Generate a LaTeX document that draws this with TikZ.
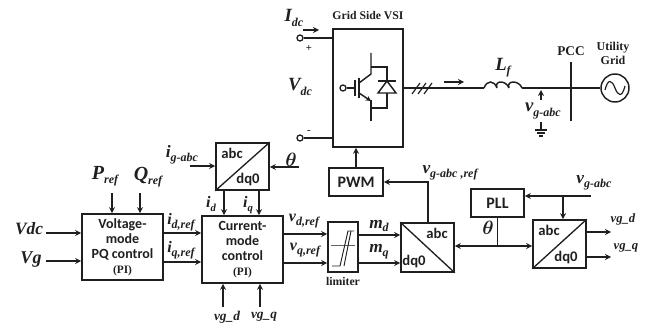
\documentclass[tikz,border=0pt]{standalone}
\usepackage{fontspec}
\setmainfont{Liberation Serif}
\newfontfamily\boxfont{Carlito}
\usetikzlibrary{arrows.meta,calc}
\definecolor{ink}{gray}{0.12}
\newcommand{\lbl}[4]{{\bfseries\itshape\fontsize{#1}{#1}\selectfont #3\raisebox{-0.22em}{\fontsize{#2}{#2}\selectfont #4}}}
\newcommand{\bth}[1]{{\fontsize{#1}{#1}\selectfont\boldmath$\theta$}}
\tikzset{
  bw/.style={minimum width=#1*0.75pt},
  bh/.style={minimum height=#1*0.75pt},
  blk/.style={draw=ink,line width=1.2pt,inner sep=0pt,align=center,font=\boxfont\bfseries\fontsize{10.5}{11.3}\selectfont,text=ink},
  bigblk/.style={blk,font=\boxfont\bfseries\fontsize{12}{12}\selectfont},
  wire/.style={draw=ink,line width=1.1pt},
  arr/.style={wire,-{Stealth[length=4.5pt,width=4.5pt]}},
  darr/.style={wire,{Stealth[length=4.5pt,width=4.5pt]}-{Stealth[length=4.5pt,width=4.5pt]}},
  txt/.style={inner sep=0pt,text=ink},
  conv/.style={font=\boxfont\bfseries\fontsize{11}{11}\selectfont,inner sep=0pt,text=ink},
  term/.style={circle,draw=ink,line width=1pt,minimum size=4.5pt,inner sep=0pt},
  slab/.style={inner sep=0pt,text=ink,font=\bfseries\fontsize{8.8}{10.5}\selectfont,align=center},
}
\begin{document}
\begin{tikzpicture}[x=0.75pt,y=-0.75pt]
\useasboundingbox (0,0) rectangle (646,324);
% blocks
\node[blk,bw=70,bh=118] (vsi) at (368,88) {};
\node[bigblk,bw=54,bh=28] (pwm) at (356,182) {PWM};
\node[blk,bw=53,bh=47] (t1) at (242.5,166.5) {};
\node[blk,bw=81,bh=66] (volt) at (122.5,247) {Voltage-\\mode\\PQ control\\{\rmfamily\bfseries\fontsize{8.5}{11.3}\selectfont (PI)}};
\node[blk,bw=81,bh=67] (curr) at (242.5,249.5) {Current-\\mode\\control\\{\rmfamily\bfseries\fontsize{8.5}{11.3}\selectfont (PI)}};
\node[blk,bw=30,bh=50] (lim) at (343,247) {};
\node[blk,bw=53,bh=49] (t2) at (427.5,247.5) {};
\node[bigblk,bw=53,bh=28] (pll) at (497.5,203) {PLL};
\node[blk,bw=53,bh=48] (t3) at (559.5,244) {};
% converter diagonals and texts
\draw[wire,line width=1pt] (t1.south west) -- (t1.north east);
\draw[wire,line width=1pt] (t2.north west) -- (t2.south east);
\draw[wire,line width=1pt] (t3.south west) -- (t3.north east);
\node[conv] (t1a) at (232,153) {abc};
\node[conv] (t1b) at (248,180) {dq0};
\node[conv] (t2a) at (437,233) {abc};
\node[conv] (t2b) at (414,262) {dq0};
\node[conv] (t3a) at (549,230) {abc};
\node[conv] (t3b) at (566,258) {dq0};
% limiter characteristic
\draw[ink!70,line width=0.7pt] (331,245) -- (355,245);
\draw[ink,line width=0.7pt] (332,266) -- (340,266) -- (348,231) -- (354,231);
\draw[ink,line width=0.7pt] (344,266) -- (351,231);
\node[slab] (limt) at (343,281) {limiter};
% free ends
\coordinate (vdcin) at (46,233);
\coordinate (vgin) at (46,261);
\coordinate (pin) at (112,193);
\coordinate (qin) at (140,193);
\coordinate (igin) at (190,166);
\coordinate (thin) at (299,167);
\coordinate (gdin) at (223,307);
\coordinate (gqin) at (260,307);
\coordinate (vgr) at (591,196);
\coordinate (o1) at (611,232);
\coordinate (o2) at (611,257);
% left side
\draw[arr] (vdcin) -- (vdcin -| volt.west);
\draw[arr] (vgin) -- (vgin -| volt.west);
\draw[arr] (pin) -- (pin |- volt.north);
\draw[arr] (qin) -- (qin |- volt.north);
\draw[arr] (volt.east |- 0,233) -- (curr.west |- 0,233);
\draw[arr] (volt.east |- 0,262) -- (curr.west |- 0,262);
\draw[arr] (igin) -- (igin -| t1.west);
\draw[arr] (thin) -- (thin -| t1.east);
\draw[arr] (t1.south -| 224,0) -- (curr.north -| 224,0);
\draw[arr] (t1.south -| 259,0) -- (curr.north -| 259,0);
\draw[arr] (gdin) -- (gdin |- curr.south);
\draw[arr] (gqin) -- (gqin |- curr.south);
\draw[arr] (curr.east |- 0,234) -- (lim.west |- 0,234);
\draw[arr] (curr.east |- 0,263) -- (lim.west |- 0,263);
\draw[arr] (lim.east |- 0,235) -- (t2.west |- 0,235);
\draw[arr] (lim.east |- 0,263) -- (t2.west |- 0,263);
% to PWM and VSI
\draw[arr] (t2.north -| 428,0) |- (pwm.east);
\draw[arr] (pwm.north) -- (pwm.north |- vsi.south);
% PLL, theta bus
\draw[darr] (t2.east |- 0,246) -- (t3.west |- 0,246);
\draw[wire] (pll.south) -- (pll.south |- 0,246);
\draw[arr] (vgr) -- (vgr -| pll.east);
\draw[arr] (563,196) -- (t3.north -| 563,0);
\draw[arr] (t3.east |- o1) -- (o1);
\draw[arr] (t3.east |- o2) -- (o2);
% DC side
\node[term] (tp) at (300,38) {};
\node[term] (tm) at (300,138) {};
\draw[wire] (tp) -- (tp -| vsi.west);
\draw[wire] (tm) -- (tm -| vsi.west);
\coordinate (ia) at (303,30);
\coordinate (ib) at (319,30);
\draw[arr,line width=0.8pt] (ia) -- (ib);
\node[txt,font=\bfseries\fontsize{8}{8}\selectfont] (plus) at (309,48) {+};
\node[txt,font=\bfseries\fontsize{8}{8}\selectfont] (minus) at (309,132) {-};
% IGBT + diode
\node[term] (gate) at (343,88) {};
\draw[wire] (gate) -- (355,88);
\draw[wire] (355,80) -- (355,96);
\draw[wire] (359,78) -- (359,98);
\draw[wire] (371,53) -- (371,74) -- (359,83);
\draw[wire,-{Stealth[length=4pt,width=4pt]}] (359,93) -- (371,101);
\draw[wire] (371,100) -- (371,121);
\draw[wire] (371,67) -- (387,67) -- (387,81);
\draw[wire] (371,108) -- (387,108) -- (387,93);
\draw[wire] (378,81) -- (396,81);
\draw[wire] (378,93) -- (396,93) -- (387,81) -- cycle;
% AC side
\coordinate (l1) at (484,88);
\coordinate (l2) at (522,88);
\node[circle,draw=ink,line width=1.1pt,minimum size=21pt,inner sep=0pt] (src) at (615,88) {};
\draw[wire] (vsi.east |- l1) -- (l1);
\draw[wire] (l2) -- (src.west);
\draw[wire] (l1) .. controls (487,80) and (494,80) .. (497,88)
            (497,88) .. controls (494,80) and (506,80) .. (509,88)
            (509,88) .. controls (506,80) and (519,80) .. (l2);
\draw[wire,line width=0.9pt] (412,94) -- (420,83) (418,94) -- (426,83) (424,94) -- (432,83);
\draw[arr,line width=0.9pt] (444,82) -- (464,82);
\draw[wire,line width=1pt] (571,62) -- (571,121);
\draw[ink,line width=0.9pt] (605,90) .. controls (608,78) and (612,80) .. (615,88) .. controls (618,96) and (622,98) .. (625,86);
\draw[arr,line width=0.8pt] (541,100) -- (541,90);
\draw[wire,line width=0.8pt] (541,122) -- (541,130) (535,130) -- (547,130) (537,133) -- (545,133) (539,136) -- (543,136);
% labels
\node[slab] (vsilab) at (368,16) {Grid Side VSI};
\node[slab,font=\bfseries\fontsize{10}{10}\selectfont] (pcc) at (571,51) {PCC};
\node[slab,font=\bfseries\fontsize{9}{10.5}\selectfont] (ug) at (613,53) {Utility\\Grid};
\node[txt] (lidc) at (294,18) {\lbl{14}{9}{I}{dc}};
\node[txt] (lvdc) at (300,87) {\lbl{14}{9}{V}{dc}};
\node[txt] (llf) at (503,68) {\lbl{14}{9}{L}{f}};
\node[txt] (lvg1) at (543,111) {\lbl{14}{9}{v}{g-abc}};
\node[txt] (lp) at (105,176) {\lbl{15}{9}{P}{ref}};
\node[txt] (lq) at (148,177) {\lbl{15}{9}{Q}{ref}};
\node[txt,font=\bfseries\itshape\fontsize{13}{13}\selectfont] (lvdcin) at (29,229) {Vdc};
\node[txt,font=\bfseries\itshape\fontsize{13.5}{13}\selectfont] (lvgin) at (31,260) {Vg};
\node[txt] (lig) at (182,155) {\lbl{13}{9}{i}{g-abc}};
\node[txt,text=ink] (lth1) at (291,160) {\bth{14}};
\node[txt] (lid) at (211,204) {\lbl{12}{8}{i}{d}};
\node[txt] (liq) at (248,205) {\lbl{12}{8}{i}{q}};
\node[txt] (lidr) at (181,222) {\lbl{12}{9}{i}{d,ref}};
\node[txt] (liqr) at (181,250) {\lbl{12}{9}{i}{q,ref}};
\node[txt] (lvdr) at (304,221) {\lbl{12}{9}{v}{d,ref}};
\node[txt] (lvqr) at (305,250) {\lbl{12}{9}{v}{q,ref}};
\node[txt,font=\bfseries\itshape\fontsize{10}{10}\selectfont] (lgd) at (227,317) {vg\_d};
\node[txt,font=\bfseries\itshape\fontsize{10}{10}\selectfont] (lgq) at (264,317) {vg\_q};
\node[txt] (lmd) at (379,226) {\lbl{13}{9}{m}{d}};
\node[txt] (lmq) at (379,252) {\lbl{13}{9}{m}{q}};
\node[txt] (lvr) at (450,173) {\lbl{13}{9}{v}{g-abc ,ref}};
\node[txt,text=ink] (lth2) at (488,228) {\bth{14}};
\node[txt] (lvg2) at (594,183) {\lbl{13}{9}{v}{g-abc}};
\node[txt,font=\bfseries\itshape\fontsize{9.5}{10}\selectfont] (lo1) at (623,219) {vg\_d};
\node[txt,font=\bfseries\itshape\fontsize{9.5}{10}\selectfont] (lo2) at (626,248) {vg\_q};
\end{tikzpicture}
\end{document}
